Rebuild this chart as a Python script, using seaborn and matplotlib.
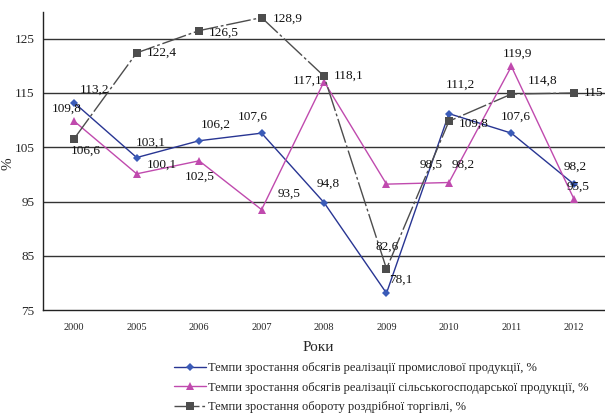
import matplotlib
matplotlib.use("Agg")
import matplotlib.pyplot as plt
import seaborn as sns
import pandas as pd

years = ["2000", "2005", "2006", "2007", "2008", "2009", "2010", "2011", "2012"]
industry = [113.2, 103.1, 106.2, 107.6, 94.8, 78.1, 111.2, 107.6, 98.2]
agriculture = [109.8, 100.1, 102.5, 93.5, 117.1, 98.2, 98.5, 119.9, 95.5]
retail = [106.6, 122.4, 126.5, 128.9, 118.1, 82.6, 109.8, 114.8, 115.0]

names = [
    "Темпи зростання обсягів реалізації промислової продукції, %",
    "Темпи зростання обсягів реалізації сільськогосподарської продукції, %",
    "Темпи зростання обороту роздрібної торгівлі, %",
]

# label offsets in pixels (dx, dy up)
ind_off = [(20, 13), (14, 15), (17, 16), (-9, 16), (4, 19), (14, 13), (11, 29), (4, 16), (1, 17)]
agr_off = [(-8, 12), (25, 9), (1, -16), (27, 16), (-16, 1), (77, 19), (-18, 18), (6, 13), (4, 12)]
ret_off = [(12, -12), (25, 0), (25, -2), (26, -1), (25, 0), (1, 22), (25, -3), (31, 13), (20, 0)]

df = pd.DataFrame({
    "x": list(range(len(years))) * 3,
    "value": industry + agriculture + retail,
    "series": [names[0]] * 9 + [names[1]] * 9 + [names[2]] * 9,
})

sns.set_style("white")
plt.rcParams["font.family"] = ["Liberation Serif", "DejaVu Serif"]

fig = plt.figure(figsize=(6.05, 4.15), dpi=100)
ax = fig.add_axes([0.0711, 0.253, 0.929, 0.719])

colors = {names[0]: "#283593", names[1]: "#C04AAE", names[2]: "#4D4D4D"}
mcolors = {names[0]: "#3A5BB8", names[1]: "#C04AAE", names[2]: "#4D4D4D"}
markers = {names[0]: "D", names[1]: "^", names[2]: "s"}
dashes = {names[0]: "", names[1]: "", names[2]: (18, 2, 2, 2)}

for y in [85, 95, 105, 115, 125]:
    ax.axhline(y, color="#333333", lw=1.0, zorder=0)

sns.lineplot(data=df, x="x", y="value", hue="series", style="series",
             palette=colors, markers=markers, dashes=dashes, sort=False,
             linewidth=1.0, markersize=6, markeredgewidth=0, ax=ax, legend=False)

# fix marker sizes/colours per series
for line, nm in zip(ax.lines[5:], names):
    line.set_markerfacecolor(mcolors[nm])
    line.set_markeredgecolor(mcolors[nm])
    if markers[nm] == "D":
        line.set_markersize(4.5)
    elif markers[nm] == "s":
        line.set_markersize(5.5)

def fmt(v):
    s = f"{v:.1f}".replace(".", ",")
    return s[:-2] if s.endswith(",0") else s

for vals, offs in [(industry, ind_off), (agriculture, agr_off), (retail, ret_off)]:
    for i, (v, (dx, dy)) in enumerate(zip(vals, offs)):
        ax.annotate(fmt(v), (i, v), xytext=(dx * 0.72, dy * 0.72),
                    textcoords="offset points", ha="center", va="center",
                    fontsize=9.5, color="#111111")

ax.set_xlim(-0.5, 8.5)
ax.set_ylim(75, 130)
ax.set_yticks([75, 85, 95, 105, 115, 125])
ax.set_xticks(range(len(years)))
ax.set_xticklabels(years, fontsize=7.5)
ax.set_xticks([i - 0.5 for i in range(len(years) + 1)], minor=True)
ax.tick_params(axis="x", which="major", length=0, pad=9)
ax.tick_params(axis="x", which="minor", length=4, width=1, direction="out", color="#222222")
ax.tick_params(axis="y", length=4, width=1, direction="out", labelsize=9.5, pad=2, color="#222222")
for s in ["top", "right"]:
    ax.spines[s].set_visible(False)
for s in ["left", "bottom"]:
    ax.spines[s].set_color("#222222")
    ax.spines[s].set_linewidth(1.0)

ax.set_xlabel("Роки", fontsize=11)
ax.xaxis.set_label_coords(0.49, -0.105)
ax.set_ylabel("%", fontsize=11)
ax.yaxis.set_label_coords(-0.05, 0.49)

handles = ax.lines[5:]
fig.legend(handles, names, loc="upper left", bbox_to_anchor=(0.28, 0.14),
           frameon=False, fontsize=9, handlelength=2.5, handletextpad=0.2,
           labelspacing=0.62, borderaxespad=0)

fig.savefig("out.png", dpi=100)
